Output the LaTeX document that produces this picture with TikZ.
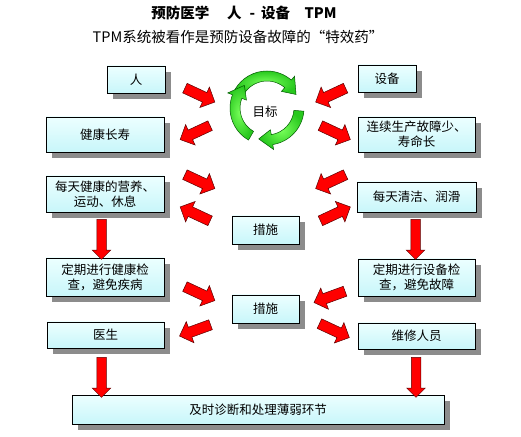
\documentclass[tikz,border=0pt]{standalone}
\usepackage{fontspec}
\setmainfont{Noto Sans CJK SC}
\usepackage{tikz}
\usetikzlibrary{calc,positioning,shapes.arrows,shadows}
\definecolor{boxtop}{RGB}{236,255,255}
\definecolor{boxbottom}{RGB}{200,246,250}
\definecolor{leafgreen}{RGB}{40,200,30}
\definecolor{leaflight}{RGB}{120,255,90}
\tikzstyle{heading} = [font=\fontsize{14.5}{16}\selectfont\bfseries]
\tikzstyle{subheading} = [font=\fontsize{14.5}{16}\selectfont]
\tikzstyle{infobox} = [draw=black,line width=0.7pt,top color=boxtop,bottom color=boxbottom,drop shadow={shadow xshift=6pt,shadow yshift=-6pt,fill=black!45,opacity=1},align=center,inner sep=0pt,font=\fontsize{12.5}{15}\selectfont]
\tikzstyle{redarrow} = [single arrow,draw=red!35!black,line width=0.5pt,fill=red,inner sep=5pt,single arrow head extend=6pt,minimum height=33pt]
\tikzstyle{downarrow} = [single arrow,draw=red!35!black,line width=0.5pt,fill=red,inner sep=4.5pt,single arrow head extend=4.5pt,minimum height=40pt,rotate=-90]
\tikzstyle{greenarrow} = [draw=green!35!black,line width=0.5pt,inner color=leaflight,outer color=leafgreen]
\newcommand{\greenarc}[2]{%
	\path[greenarrow] ($(cycle)+(#1:37)$) arc[start angle=#1,end angle=#2+24,radius=37] -- ($(cycle)+(#2+24:42)$) -- ($(cycle)+(#2:32)$) -- ($(cycle)+(#2+24:22)$) -- ($(cycle)+(#2+24:27)$) arc[start angle=#2+24,end angle=#1,radius=27] -- cycle;}
\begin{document}
\begin{tikzpicture}[x=1pt,y=1pt]
	\useasboundingbox (0,0) rectangle (521,436);
	\node (title)[heading] at (244,423) {预防医学\quad\ 人\hspace{8pt}-\hspace{6pt}设备\quad TPM};
	\node (subtitle)[subheading] at (238,399) {TPM系统被看作是预防设备故障的“特效药”};

	\node (man)[infobox,minimum width=58,minimum height=27] at (136,356.5) {人};
	\node (equip)[infobox,minimum width=58,minimum height=27] at (387,357.5) {设备};
	\node (health)[infobox,minimum width=118,minimum height=35] at (105,301.5) {健康长寿};
	\node (output)[infobox,minimum width=117,minimum height=35] at (416.5,301.5) {连续生产故障少、\\寿命长};
	\node (dailyman)[infobox,minimum width=118,minimum height=36] at (105,242) {每天健康的营养、\\运动、休息};
	\node (dailyequip)[infobox,minimum width=119,minimum height=30] at (416.5,239) {每天清洁、润滑};
	\node (measureA)[infobox,minimum width=67,minimum height=28] at (265.5,206) {措施};
	\node (checkman)[infobox,minimum width=118,minimum height=38] at (105,159) {定期进行健康检\\查，避免疾病};
	\node (checkequip)[infobox,minimum width=117,minimum height=37] at (416.5,158.5) {定期进行设备检\\查，避免故障};
	\node (measureB)[infobox,minimum width=67,minimum height=28] at (265.5,127) {措施};
	\node (doctor)[infobox,minimum width=117,minimum height=26] at (105.5,101) {医生};
	\node (repair)[infobox,minimum width=117,minimum height=26] at (416.5,100) {维修人员};
	\node (weak)[infobox,minimum width=372,minimum height=29] at (258,26.5) {及时诊断和处理薄弱环节};

	\coordinate (cycle) at (267,328);
	\greenarc{150}{25}
	\greenarc{-5}{-105}
	\greenarc{-120}{-225}
	\node (goal)[font=\fontsize{12.5}{15}\selectfont] at (265,324) {目标};

	\node (inman)[redarrow,rotate=-25] at (197.5,342) {};
	\node (inequip)[redarrow,rotate=205] at (333,342) {};
	\node (outman)[redarrow,rotate=205] at (197.5,304.5) {};
	\node (outequip)[redarrow,rotate=-25] at (333,304.5) {};
	\node (toman)[redarrow,rotate=-25] at (197.5,255.5) {};
	\node (toequip)[redarrow,rotate=205] at (333,255.5) {};
	\node (backman)[redarrow,rotate=155] at (197.5,221) {};
	\node (backequip)[redarrow,rotate=25] at (333,221) {};
	\node (checkin)[redarrow,rotate=-25] at (197.5,143.5) {};
	\node (checkout)[redarrow,rotate=200] at (332,140) {};
	\node (doctorin)[redarrow,rotate=200] at (197.5,106.5) {};
	\node (repairin)[redarrow,rotate=-25] at (332,106.5) {};

	\node (dailydownA)[downarrow] at (101.5,199) {};
	\node (dailydownB)[downarrow] at (415.5,199) {};
	\node (weakdownA)[downarrow] at (101.5,61) {};
	\node (weakdownB)[downarrow] at (416,61) {};
\end{tikzpicture}
\end{document}
